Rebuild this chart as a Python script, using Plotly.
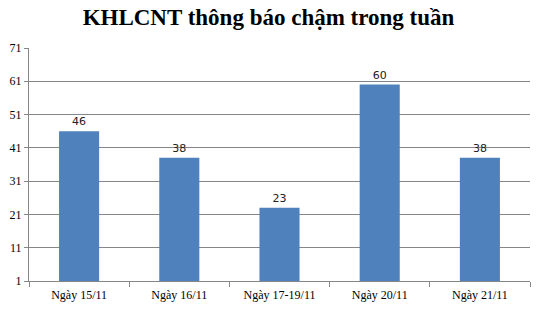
import plotly.graph_objects as go

categories = ["Ngày 15/11", "Ngày 16/11", "Ngày 17-19/11", "Ngày 20/11", "Ngày 21/11"]
values = [46, 38, 23, 60, 38]
y_ticks = [1, 11, 21, 31, 41, 51, 61, 71]
axis_base = 1

fig = go.Figure(go.Bar(
    x=categories, y=[v - axis_base for v in values], base=axis_base,
    marker=dict(color="#4F81BD", line=dict(width=0)),
    text=[str(v) for v in values], textposition="outside",
    textfont=dict(family="DejaVu Sans", size=11, color="#222222"),
    cliponaxis=False,
))

fig.update_layout(
    width=537, height=310,
    margin=dict(l=29, r=7, t=48, b=29),
    paper_bgcolor="white", plot_bgcolor="white",
    bargap=0.6,
    showlegend=False,
    title=dict(text="<b>KHLCNT thông báo chậm trong tuần</b>", x=0.5, xanchor="center",
               y=0.945, yanchor="middle",
               font=dict(family="Liberation Serif", size=23, color="#000000")),
)
fig.update_xaxes(
    showline=True, linecolor="#868686", linewidth=1,
    ticks="outside", tickson="boundaries", ticklen=5, tickcolor="#868686",
    tickfont=dict(family="Liberation Serif", size=12, color="#000000"),
    ticklabelstandoff=3,
    showgrid=False,
)
fig.update_yaxes(
    range=[axis_base, 71], tickvals=y_ticks, ticktext=[str(t) for t in y_ticks],
    showline=True, linecolor="#868686", linewidth=1,
    ticks="outside", ticklen=4, tickcolor="#868686",
    showgrid=True, gridcolor="#868686", gridwidth=1,
    tickfont=dict(family="Liberation Serif", size=12, color="#000000"),
    zeroline=False,
)
fig.write_html("out.html")
